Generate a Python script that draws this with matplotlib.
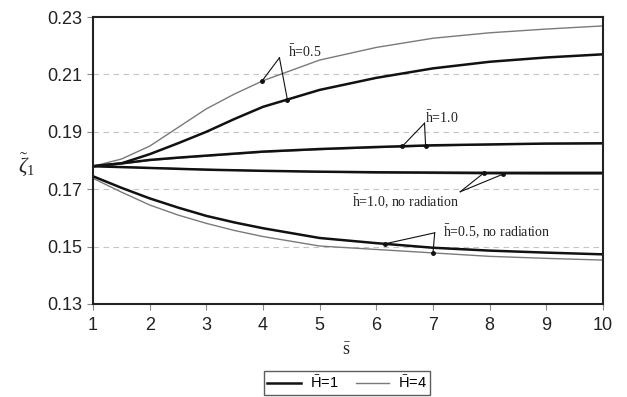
import matplotlib
matplotlib.use("Agg")
import matplotlib.pyplot as plt
import numpy as np

plt.rcParams["mathtext.fontset"] = "custom"
plt.rcParams["mathtext.rm"] = "Liberation Serif"
plt.rcParams["mathtext.it"] = "Liberation Serif:italic"
plt.rcParams["mathtext.sf"] = "Liberation Sans"

# dimensionless distance s
s = [1, 1.5, 2, 2.5, 3, 3.5, 4, 5, 6, 7, 8, 9, 10]

# zeta_1 for h = 0.5 / 1.0, with and without radiation, H = 1 and H = 4
h05_H1 = [0.178, 0.1790, 0.1822, 0.1860, 0.1900, 0.1945, 0.1987, 0.2046, 0.2088, 0.2121, 0.2144, 0.2159, 0.2170]
h05_H4 = [0.178, 0.1805, 0.1850, 0.1915, 0.1980, 0.2032, 0.2078, 0.2150, 0.2194, 0.2226, 0.2245, 0.2258, 0.2269]
h10_H1 = [0.178, 0.1790, 0.1802, 0.1810, 0.1817, 0.1824, 0.1831, 0.1840, 0.1847, 0.1853, 0.1856, 0.1859, 0.1860]
h10_H4 = [0.178, 0.1788, 0.1800, 0.1808, 0.1815, 0.1822, 0.1829, 0.1838, 0.1845, 0.1851, 0.1855, 0.1858, 0.1859]
h10_norad_H1 = [0.178, 0.1777, 0.1774, 0.1771, 0.1768, 0.1766, 0.1764, 0.1761, 0.1759, 0.1758, 0.1757, 0.1757, 0.1757]
h10_norad_H4 = [0.178, 0.1778, 0.1775, 0.1772, 0.1769, 0.1766, 0.1764, 0.1760, 0.1757, 0.1755, 0.1753, 0.1752, 0.1752]
h05_norad_H1 = [0.1745, 0.1705, 0.1668, 0.1636, 0.1607, 0.1584, 0.1564, 0.1530, 0.1512, 0.1496, 0.1486, 0.1479, 0.1473]
h05_norad_H4 = [0.1738, 0.1690, 0.1645, 0.1610, 0.1581, 0.1556, 0.1535, 0.1502, 0.1490, 0.1478, 0.1466, 0.1459, 0.1453]

yticks = [0.13, 0.15, 0.17, 0.19, 0.21, 0.23]
xticks = list(range(1, 11))

thick = dict(color="#111111", lw=1.8)
thin = dict(color="#7a7a7a", lw=1.0)

fig = plt.figure(figsize=(6.27, 3.97), dpi=100)
ax = fig.add_axes([93 / 627, 93 / 397, 510 / 627, 287 / 397])

for y in yticks[1:-1]:
    ax.axhline(y, color="#c4c4c4", lw=0.8, ls=(0, (5, 4)), zorder=0)

ax.plot(s, h05_H4, **thin)
ax.plot(s, h05_H1, **thick)
ax.plot(s, h10_H4, **thin)
ax.plot(s, h10_H1, **thick)
ax.plot(s, h10_norad_H4, **thin)
ax.plot(s, h10_norad_H1, **thick)
ax.plot(s, h05_norad_H4, **thin)
ax.plot(s, h05_norad_H1, **thick)

ax.set_xlim(1, 10)
ax.set_ylim(0.13, 0.23)
ax.set_xticks(xticks)
ax.set_yticks(yticks)
ax.set_yticklabels(["%.2f" % v for v in yticks])
for sp in ax.spines.values():
    sp.set_linewidth(1.5)
    sp.set_color("#222222")
ax.tick_params(direction="out", length=4, width=0.8, color="#888888",
               labelsize=13, labelcolor="#222222")
for lab in ax.get_xticklabels() + ax.get_yticklabels():
    lab.set_fontfamily("Liberation Sans")
ax.tick_params(axis="y", pad=4)
ax.tick_params(axis="x", pad=5)


def pointer(apex, targets, text, tx, ty):
    # two leader lines from a common apex down to the curves
    for x0, curve in targets:
        y0 = np.interp(x0, s, curve)
        ax.plot([apex[0], x0], [apex[1], y0], color="#111111", lw=0.8)
        ax.plot([x0], [y0], "o", color="#111111", ms=2.5)
    ax.text(tx, ty, text, family="Liberation Serif", fontsize=10,
            va="center", ha="left", color="#222222")


pointer((4.29, 0.2158), [(3.98, h05_H4), (4.43, h05_H1)],
        r"$\bar{\mathrm{h}}$=0.5", 4.44, 0.2178)
pointer((6.85, 0.1930), [(6.46, h10_H1), (6.87, h10_H4)],
        r"$\bar{\mathrm{h}}$=1.0", 6.86, 0.1950)
pointer((7.48, 0.1691), [(7.90, h10_norad_H1), (8.24, h10_norad_H4)],
        r"$\bar{\mathrm{h}}$=1.0, no radiation", 5.57, 0.1656)
pointer((7.03, 0.1548), [(6.15, h05_norad_H1), (7.00, h05_norad_H4)],
        r"$\bar{\mathrm{h}}$=0.5, no radiation", 7.18, 0.1550)

fig.text(27 / 627, 1 - 165 / 397, r"$\tilde{\zeta}_1$", fontsize=15,
         ha="center", va="center", color="#222222")
fig.text(347 / 627, 1 - 350 / 397, r"$\bar{\mathrm{s}}$", fontsize=13,
         ha="center", va="center", color="#222222")

h1, = ax.plot([], [], **thick)
h4, = ax.plot([], [], **thin)
leg = fig.legend([h1, h4], [r"$\bar{\mathsf{H}}$=1", r"$\bar{\mathsf{H}}$=4"],
                 loc="upper center", bbox_to_anchor=(347 / 627, 1 - 371 / 397),
                 ncol=2, frameon=True, fancybox=False,
                 handlelength=2.3, handletextpad=0.6, columnspacing=1.2,
                 borderpad=0.25, borderaxespad=0,
                 prop={"family": "Liberation Sans", "size": 10.5})
leg.get_frame().set_edgecolor("#333333")
leg.get_frame().set_linewidth(1.0)

fig.savefig("out.png", dpi=100)
